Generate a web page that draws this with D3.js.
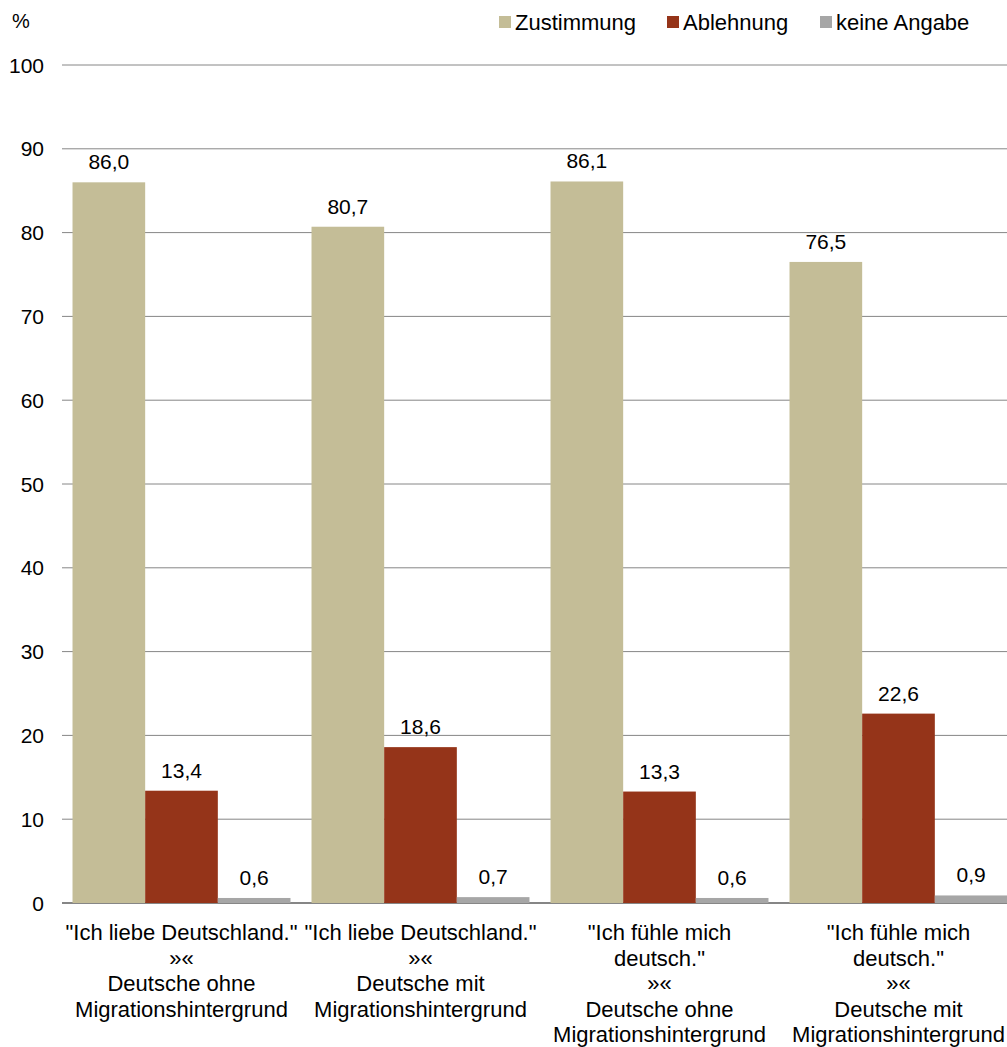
<!DOCTYPE html>
<html><head><meta charset="utf-8">
<script src="https://cdn.jsdelivr.net/npm/d3@7"></script>
<style>body{margin:0;background:#fff}svg{display:block}text{font-family:"Liberation Sans",Arial,sans-serif;fill:#000}</style>
</head><body>
<svg id="c" width="1007" height="1047"></svg>
<script>
const categories = [
  ['"Ich liebe Deutschland."', '»«', 'Deutsche ohne', 'Migrationshintergrund'],
  ['"Ich liebe Deutschland."', '»«', 'Deutsche mit', 'Migrationshintergrund'],
  ['"Ich fühle mich', 'deutsch."', '»«', 'Deutsche ohne', 'Migrationshintergrund'],
  ['"Ich fühle mich', 'deutsch."', '»«', 'Deutsche mit', 'Migrationshintergrund']
];
const seriesNames = ["Zustimmung", "Ablehnung", "keine Angabe"];
const zustimmung = [86.0, 80.7, 86.1, 76.5];
const ablehnung = [13.4, 18.6, 13.3, 22.6];
const keineAngabe = [0.6, 0.7, 0.6, 0.9];
const yTicks = [0, 10, 20, 30, 40, 50, 60, 70, 80, 90, 100];
const colors = ["#C4BD97", "#953419", "#A6A6A6"];

const seriesValues = [zustimmung, ablehnung, keineAngabe];
const svg = d3.select("#c");
const x0 = d3.scaleBand().domain(d3.range(categories.length)).range([62, 1018]).paddingInner(0.088).paddingOuter(0.044);
const x1 = d3.scaleBand().domain(d3.range(seriesNames.length)).range([0, x0.bandwidth()]);
const y = d3.scaleLinear().domain([0, 100]).range([903, 65]);
const fmt = v => d3.format(".1f")(v).replace(".", ",");

// gridlines
svg.append("g").selectAll("line").data(yTicks).join("line")
  .attr("x1", 62).attr("x2", 1007).attr("y1", d => y(d)).attr("y2", d => y(d))
  .attr("stroke", "#868686").attr("stroke-width", d => d === 0 ? 2 : 1);

// y tick labels
svg.append("g").selectAll("text").data(yTicks).join("text")
  .attr("x", 44).attr("y", d => y(d)).attr("dy", "0.36em").attr("text-anchor", "end")
  .attr("font-size", 21).text(d => d);

svg.append("text").attr("x", 12).attr("y", 28).attr("font-size", 20).text("%");

// bars
const groups = svg.append("g").selectAll("g").data(categories).join("g")
  .attr("transform", (d, i) => `translate(${x0(i)},0)`);
groups.each(function(c, i) {
  const g = d3.select(this);
  seriesValues.forEach((vals, s) => {
    const v = vals[i];
    g.append("rect").attr("x", x1(s)).attr("width", x1.bandwidth())
      .attr("y", y(v)).attr("height", y(0) - y(v)).attr("fill", colors[s]);
    g.append("text").attr("x", x1(s) + x1.bandwidth() / 2).attr("y", y(v) - 13)
      .attr("text-anchor", "middle").attr("font-size", 21).text(fmt(v));
  });
  const t = g.append("text").attr("text-anchor", "middle").attr("font-size", 22);
  c.forEach((line, k) => {
    t.append("tspan").attr("x", x0.bandwidth() / 2).attr("y", 940 + k * 25.6).text(line);
  });
});

// legend
const legendX = [499, 667, 820];
const lg = svg.append("g").selectAll("g").data(seriesNames).join("g")
  .attr("transform", (d, i) => `translate(${legendX[i]},0)`);
lg.append("rect").attr("x", 0).attr("y", 16).attr("width", 12).attr("height", 12).attr("fill", (d, i) => colors[i]);
lg.append("text").attr("x", 16).attr("y", 30).attr("font-size", 22).text(d => d);
</script>
</body></html>
